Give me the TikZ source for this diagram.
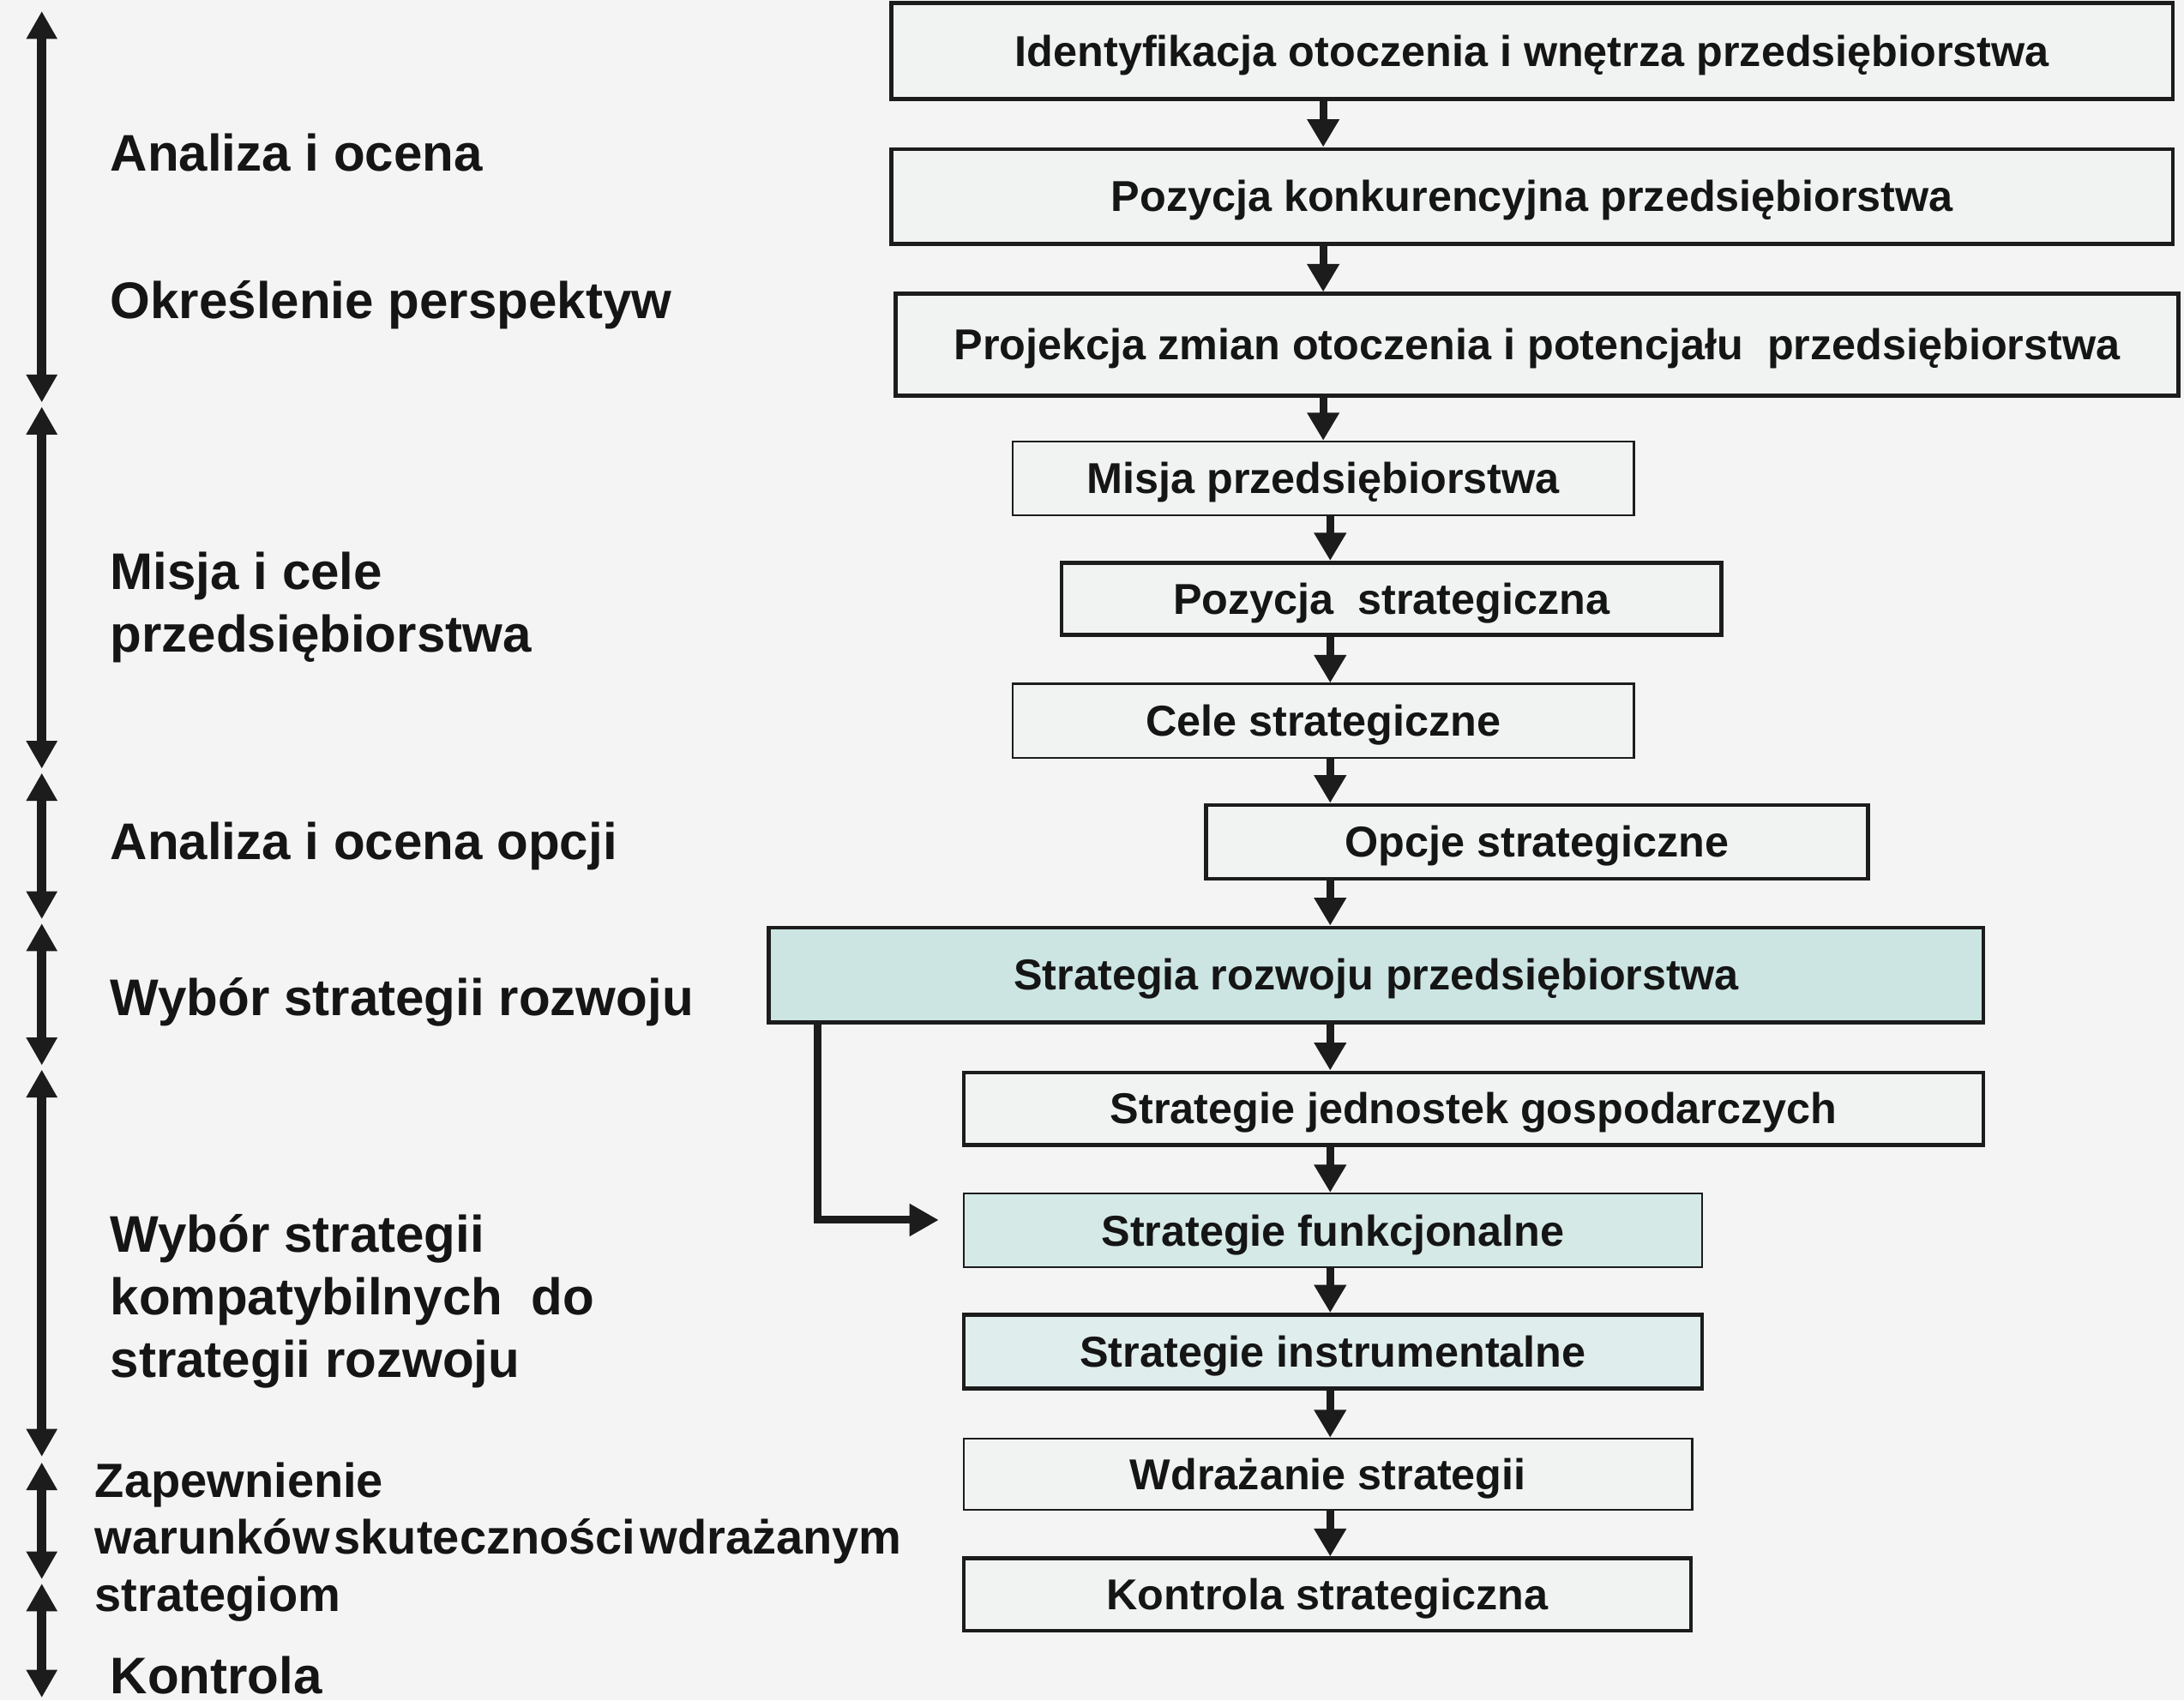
\documentclass[tikz,border=0pt]{standalone}
\usepackage{fontspec}
\setmainfont{Liberation Sans}
\usetikzlibrary{arrows.meta}
\definecolor{bg}{HTML}{F4F4F4}
\definecolor{boxfill}{HTML}{F1F3F3}
\definecolor{tealA}{HTML}{CCE5E2}
\definecolor{tealB}{HTML}{D5E9E7}
\definecolor{tealC}{HTML}{E0EDED}
\definecolor{edge}{HTML}{1C1C1C}
\definecolor{ink}{HTML}{151515}
\begin{document}
\begin{tikzpicture}[x=1pt,y=-1pt,
  box/.style={draw=edge, fill=boxfill, inner sep=0pt, text=ink,
    text height=22pt, text depth=0pt,
    font=\bfseries\fontsize{31}{37}\selectfont},
  thickbox/.style={box, line width=2.8pt},
  thinbox/.style={box, line width=1.4pt},
  flow/.style={draw=edge, line width=5.5pt, -{Triangle[width=22pt,length=20pt]}},
  elbow/.style={draw=edge, line width=5.5pt, -{Triangle[width=22pt,length=21pt]}},
  larr/.style={draw=edge, line width=7pt, {Triangle[width=21pt,length=20pt]}-{Triangle[width=21pt,length=20pt]}},
  lab/.style={anchor=base west, inner sep=0pt, text=ink, font=\bfseries\fontsize{37}{45}\selectfont},
  labs/.style={anchor=base west, inner sep=0pt, text=ink, font=\bfseries\fontsize{34.5}{41}\selectfont}
]
\fill[bg] (0,0) rectangle (1568,1221);
\useasboundingbox (0,0) rectangle (1568,1221);

% flow boxes
\node[thickbox, minimum width=920pt, minimum height=69pt] (b1) at (1100,36.5) {Identyfikacja otoczenia i wnętrza przedsiębiorstwa};
\node[thickbox, minimum width=920pt, minimum height=68pt] (b2) at (1100,141) {Pozycja konkurencyjna przedsiębiorstwa};
\node[thickbox, minimum width=921pt, minimum height=73pt] (b3) at (1103.5,247.5) {Projekcja zmian otoczenia i potencjału\ \ przedsiębiorstwa};
\node[thinbox, minimum width=446pt, minimum height=53pt] (b4) at (950,343.5) {Misja przedsiębiorstwa};
\node[thickbox, minimum width=474pt, minimum height=52pt] (b5) at (999,430) {Pozycja\ \ strategiczna};
\node[thinbox, minimum width=446pt, minimum height=53pt] (b6) at (950,517.5) {Cele strategiczne};
\node[thickbox, minimum width=475pt, minimum height=53pt] (b7) at (1103.5,604.5) {Opcje strategiczne};
\node[thickbox, fill=tealA, minimum width=872pt, minimum height=68pt] (b8) at (988,700) {Strategia rozwoju przedsiębiorstwa};
\node[thickbox, minimum width=732pt, minimum height=52pt] (b9) at (1058,796) {Strategie jednostek gospodarczych};
\node[thinbox, fill=tealB, minimum width=530pt, minimum height=53pt] (b10) at (957,883.5) {Strategie funkcjonalne};
\node[thickbox, fill=tealC, minimum width=530pt, minimum height=53pt] (b11) at (957,970.5) {Strategie instrumentalne};
\node[thinbox, minimum width=523pt, minimum height=51pt] (b12) at (953.5,1058.5) {Wdrażanie strategii};
\node[thickbox, minimum width=522pt, minimum height=52pt] (b13) at (953,1145) {Kontrola strategiczna};

% connector columns
\coordinate (ca) at (950,0);
\coordinate (cb) at (955,0);
\draw[flow] (b1.south -| ca) -- (b2.north -| ca);
\draw[flow] (b2.south -| ca) -- (b3.north -| ca);
\draw[flow] (b3.south -| ca) -- (b4.north -| ca);
\draw[flow] (b4.south -| cb) -- (b5.north -| cb);
\draw[flow] (b5.south -| cb) -- (b6.north -| cb);
\draw[flow] (b6.south -| cb) -- (b7.north -| cb);
\draw[flow] (b7.south -| cb) -- (b8.north -| cb);
\draw[flow] (b8.south -| cb) -- (b9.north -| cb);
\draw[flow] (b9.south -| cb) -- (b10.north -| cb);
\draw[flow] (b10.south -| cb) -- (b11.north -| cb);
\draw[flow] (b11.south -| cb) -- (b12.north -| cb);
\draw[flow] (b12.south -| cb) -- (b13.north -| cb);

% elbow connector
\coordinate (ex) at (587,0);
\coordinate (eend) at (674,876);
\draw[elbow] (b8.south -| ex) |- (eend);

% left phase arrows
\coordinate (a0) at (30,8);
\coordinate (a1) at (30,289);
\coordinate (a2) at (30,292);
\coordinate (a3) at (30,552);
\coordinate (a4) at (30,555);
\coordinate (a5) at (30,660);
\coordinate (a6) at (30,663);
\coordinate (a7) at (30,765);
\coordinate (a8) at (30,768);
\coordinate (a9) at (30,1046);
\coordinate (a10) at (30,1050);
\coordinate (a11) at (30,1134);
\coordinate (a12) at (30,1137);
\coordinate (a13) at (30,1219);
\draw[larr] (a0) -- (a1);
\draw[larr] (a2) -- (a3);
\draw[larr] (a4) -- (a5);
\draw[larr] (a6) -- (a7);
\draw[larr] (a8) -- (a9);
\draw[larr] (a10) -- (a11);
\draw[larr] (a12) -- (a13);

% left labels
\node[lab] (l1) at (79,123) {Analiza i ocena};
\node[lab] (l2) at (79,229) {Określenie perspektyw};
\node[lab] (l3) at (79,423) {\begin{tabular}[t]{@{}l@{}}Misja i cele\\przedsiębiorstwa\end{tabular}};
\node[lab] (l4) at (79,617) {Analiza i ocena opcji};
\node[lab] (l5) at (79,729) {Wybór strategii rozwoju};
\node[lab] (l6) at (79,899) {\begin{tabular}[t]{@{}l@{}}Wybór strategii\\kompatybilnych\ \ do\\strategii rozwoju\end{tabular}};
\node[labs] (l7) at (68,1075) {\begin{tabular}[t]{@{}l@{}}Zapewnienie\\{\spaceskip=3pt\relax warunków skuteczności wdrażanym}\\strategiom\end{tabular}};
\node[lab] (l8) at (79,1216) {Kontrola};
\end{tikzpicture}
\end{document}
